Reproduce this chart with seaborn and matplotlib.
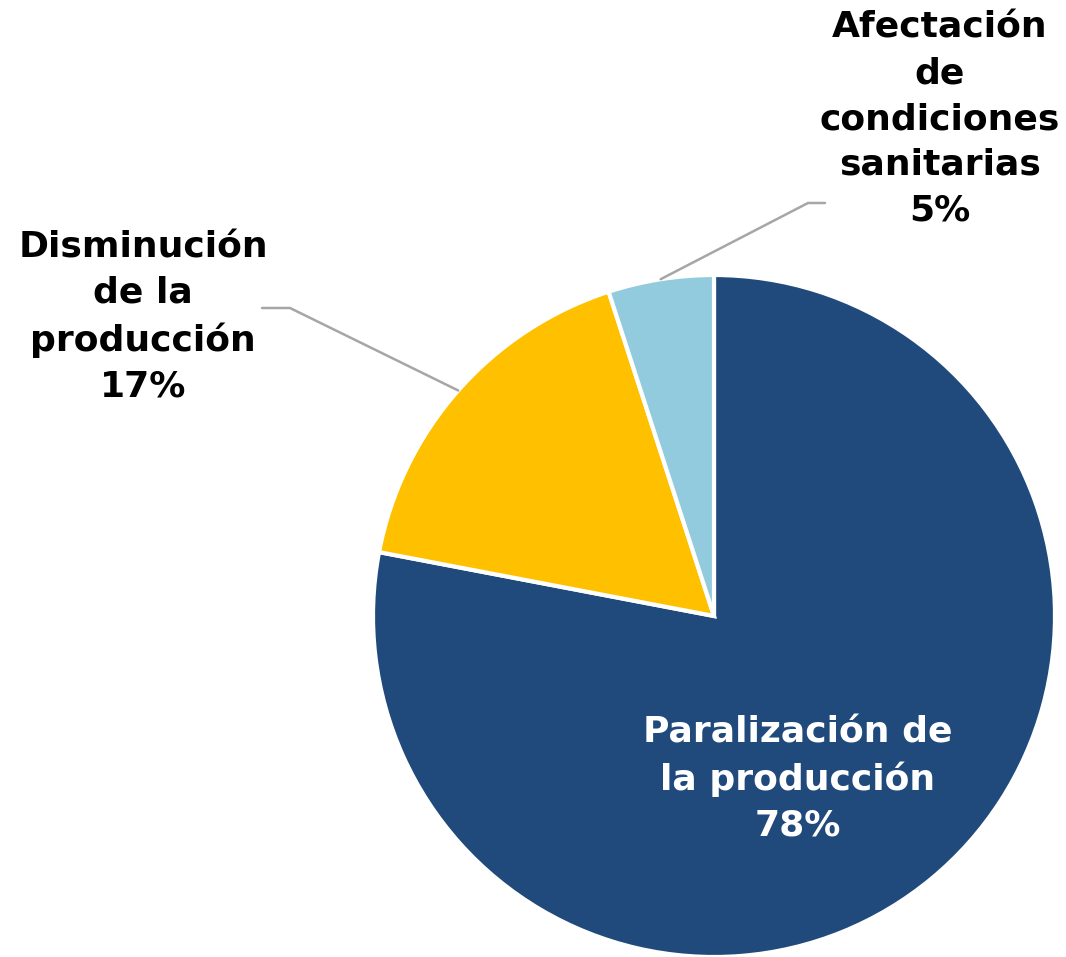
import matplotlib
matplotlib.use('Agg')
import matplotlib.pyplot as plt
import numpy as np
import seaborn as sns

sns.set_theme(style='white')
plt.rcParams['font.family'] = ['DejaVu Sans']

# data
categories = ['Paralización de\nla producción', 'Disminución\nde la\nproducción', 'Afectación\nde\ncondiciones\nsanitarias']
values = [78, 17, 5]
colors = ['#214A7C', '#FFC000', '#92CBDD']

fig = plt.figure(figsize=(10.66, 9.57), dpi=100)
ax = fig.add_axes([0, 0, 1, 1])

cx, cy, r = 714, 341, 341
wedges, _ = ax.pie(values, colors=colors, startangle=90, counterclock=False,
                   center=(cx, cy), radius=r, frame=True,
                   wedgeprops=dict(edgecolor='white', linewidth=3))
ax.set_xlim(0, 1066)
ax.set_ylim(0, 957)
ax.set_aspect('equal')
ax.axis('off')

labels = [f'{c}\n{v}%' for c, v in zip(categories, values)]

# big slice label inside
ax.text(798, 178, labels[0], ha='center', va='center', color='white',
        fontsize=26, fontweight='bold', linespacing=1.44)

# outside labels with leader lines
outside = [(1, (290, 649), (262, 649), (143, 640)),
           (2, (808, 754), (825, 754), (940, 838))]
for i, elbow, end, txt in outside:
    w = wedges[i]
    mid = np.deg2rad((w.theta1 + w.theta2) / 2)
    sx, sy = cx + r * np.cos(mid), cy + r * np.sin(mid)
    ax.plot([sx, elbow[0], end[0]], [sy, elbow[1], end[1]], color='#A6A6A6', lw=1.8)
    ax.text(txt[0], txt[1], labels[i], ha='center', va='center', color='black',
            fontsize=26, fontweight='bold', linespacing=1.44)

fig.savefig('out.png', dpi=100)
